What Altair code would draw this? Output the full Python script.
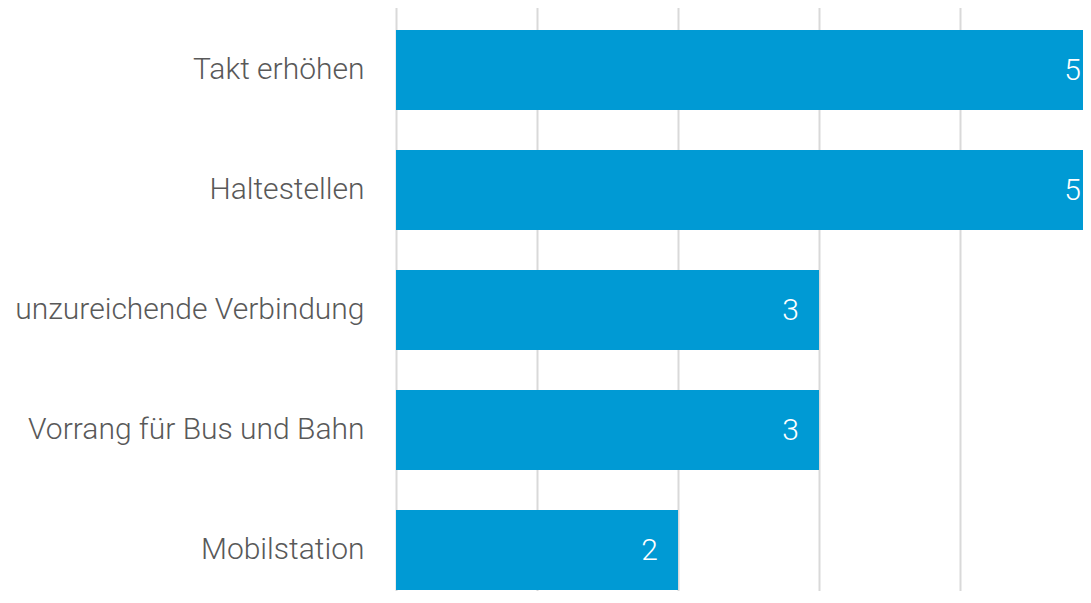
import altair as alt
import pandas as pd

categories = ["Takt erhöhen", "Haltestellen", "unzureichende Verbindung", "Vorrang für Bus und Bahn", "Mobilstation"]
values = [5, 5, 3, 3, 2]
grid_values = [0, 1, 2, 3, 4, 5]

df = pd.DataFrame({"cat": categories, "val": values})

FONT = "Roboto"

x_axis = alt.Axis(labels=False, ticks=False, domain=False, grid=True, title=None,
                  gridColor="#d9d9d9", gridWidth=2, values=grid_values)
y_axis = alt.Axis(title=None, ticks=False, domain=False, labelPadding=32,
                  labelFontSize=30, labelFont=FONT, labelFontWeight=300,
                  labelColor="#595959", labelLimit=600)
x_scale = alt.Scale(domain=[0, 5], range=[0, 705], nice=False, zero=True)
y_scale = alt.Scale(range=[0, 600], paddingInner=1/3, paddingOuter=1/6)

x = alt.X("val:Q", scale=x_scale, axis=x_axis)
y = alt.Y("cat:N", sort=categories, scale=y_scale, axis=y_axis)

bars = alt.Chart(df).mark_bar(color="#009AD4").encode(x=x, y=y)
text = alt.Chart(df).mark_text(align="right", baseline="middle", dx=-20, dy=1,
                               color="white", fontSize=30, font=FONT, fontWeight=300).encode(
    x=x, y=y, text="val:Q")

chart = alt.layer(bars, text).properties(
    width=687, height=581,
    autosize=alt.AutoSizeParams(type="none"),
    padding={"left": 388, "top": 2, "right": 0, "bottom": 0},
).configure_view(stroke=None)

chart.save("out.html", embed_options={"renderer": "svg", "actions": False})
